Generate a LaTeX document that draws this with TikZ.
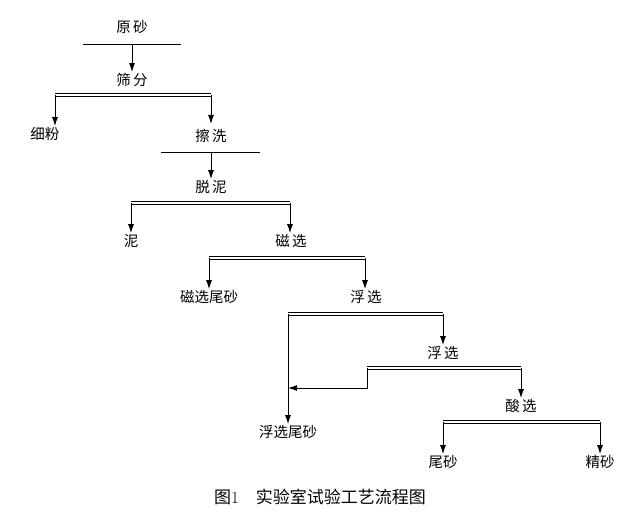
\documentclass[tikz,border=0pt]{standalone}
\usepackage{fontspec}
\usetikzlibrary{arrows.meta}
\newfontfamily\cjk{Noto Sans CJK SC}
\begin{document}
\begin{tikzpicture}[x=1pt,y=-1pt,
  lbl/.style={font=\cjk\fontsize{14.5}{14.5}\selectfont,inner sep=1pt},
  bar/.style={double,double distance=1.6pt,line width=1.2pt},
  arr/.style={-{Latex[length=9pt,width=6pt]},line width=1pt},
  ln/.style={line width=1pt}]
\useasboundingbox (0,0) rectangle (640,529);
\node[lbl] (ys) at (132,27) {原\,砂};
\node[lbl] (sf) at (132,80) {筛\,分};
\node[lbl] (xf) at (45,134) {细粉};
\node[lbl] (cx) at (211,136) {擦\,洗};
\node[lbl] (tn) at (211,187) {脱\,泥};
\node[lbl] (ni) at (131,241) {泥};
\node[lbl] (cx2) at (291,241) {磁\,选};
\node[lbl] (cw) at (209,297) {磁选尾砂};
\node[lbl] (fx1) at (366,297) {浮\,选};
\node[lbl] (fx2) at (443,353) {浮\,选};
\node[lbl] (fw) at (288,432) {浮选尾砂};
\node[lbl] (sx) at (521,406) {酸\,选};
\node[lbl] (ws) at (443,462) {尾砂};
\node[lbl] (js) at (600,462) {精砂};
\node[font=\fontsize{17}{17}\selectfont] (cap) at (320,497) {{\cjk 图}1\quad {\cjk 实验室试验工艺流程图}};
\draw[ln] (83,45) -- (181,45);
\draw[arr] (132,45) -- (sf.north);
\draw[bar] (55,95) -- (211,95);
\draw[arr] (55,95) -- (xf.north -| 55,0);
\draw[arr] (211,95) -- (211,124);
\draw[ln] (161,153) -- (260,153);
\draw[arr] (211,153) -- (tn.north);
\draw[bar] (131,203) -- (290,203);
\draw[arr] (131,203) -- (ni.north);
\draw[arr] (290,203) -- (cx2.north -| 290,0);
\draw[bar] (209,258) -- (365,258);
\draw[arr] (209,258) -- (cw.north);
\draw[arr] (365,258) -- (fx1.north -| 365,0);
\draw[bar] (288,314) -- (443,314);
\draw[arr] (443,314) -- (fx2.north);
\draw[arr] (288,314) -- (fw.north);
\draw[bar] (367,368) -- (521,368);
\draw[arr] (521,368) -- (sx.north);
\coordinate (m) at (288,388);
\draw[arr] (367,368) -- (367,388) -- (m);
\draw[bar] (443,422) -- (600,422);
\draw[arr] (443,422) -- (ws.north);
\draw[arr] (600,422) -- (js.north);
\end{tikzpicture}
\end{document}
